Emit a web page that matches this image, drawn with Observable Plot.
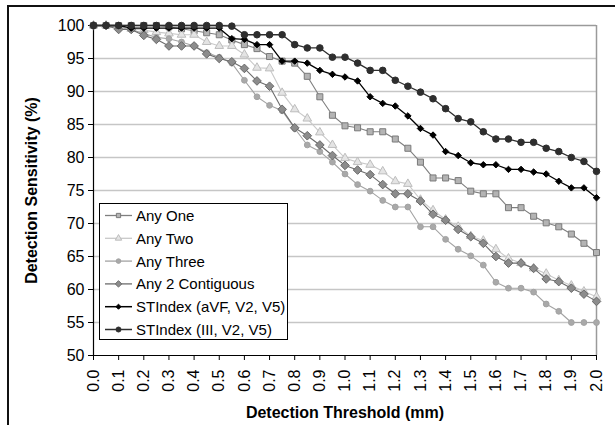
<!DOCTYPE html>
<html>
<head>
<meta charset="utf-8">
<script src="https://cdn.jsdelivr.net/npm/d3@7"></script>
<script src="https://cdn.jsdelivr.net/npm/@observablehq/plot@0.6"></script>
<style>
  html, body { margin: 0; padding: 0; background: #fff; }
  #wrap { position: relative; width: 615px; height: 425px; overflow: hidden; font-family: "Liberation Sans", Arial, sans-serif; }
  #outer { position: absolute; left: 7px; top: 5px; width: 700px; height: 600px; border-left: 2px solid #111; border-top: 2px solid #111; pointer-events: none; }
  #legend { position: absolute; left: 99px; top: 203px; }
</style>
</head>
<body>
<div id="wrap"><div id="outer"></div></div>
<script>
const thresholds = [0.00, 0.05, 0.10, 0.15, 0.20, 0.25, 0.30, 0.35, 0.40, 0.45, 0.50, 0.55, 0.60, 0.65, 0.70, 0.75, 0.80, 0.85, 0.90, 0.95, 1.00, 1.05, 1.10, 1.15, 1.20, 1.25, 1.30, 1.35, 1.40, 1.45, 1.50, 1.55, 1.60, 1.65, 1.70, 1.75, 1.80, 1.85, 1.90, 1.95, 2.00];
const xTicks = [0.0, 0.1, 0.2, 0.3, 0.4, 0.5, 0.6, 0.7, 0.8, 0.9, 1.0, 1.1, 1.2, 1.3, 1.4, 1.5, 1.6, 1.7, 1.8, 1.9, 2.0];
const yTicks = [50, 55, 60, 65, 70, 75, 80, 85, 90, 95, 100];

const seriesNames = ["Any One", "Any Two", "Any Three", "Any 2 Contiguous", "STIndex (aVF, V2, V5)", "STIndex (III, V2, V5)"];

const anyOne = [100, 100, 100, 100, 100, 100, 99.8, 99.5, 99.2, 98.9, 98.6, 97.8, 97.1, 96.5, 95.3, 94.6, 94.3, 92.3, 89.2, 86.4, 84.8, 84.5, 83.9, 83.9, 82.8, 81.4, 79.3, 76.9, 76.9, 76.5, 74.9, 74.5, 74.5, 72.4, 72.4, 71.1, 70.1, 69.5, 68.4, 67.0, 65.6];
const anyTwo = [100, 100, 99.8, 99.5, 99.3, 99.0, 98.8, 98.6, 98.6, 97.5, 96.9, 96.9, 95.6, 93.6, 93.5, 89.8, 87.3, 85.9, 83.8, 81.9, 79.9, 79.3, 78.9, 77.9, 76.4, 76.0, 73.6, 72.0, 70.6, 69.5, 68.1, 67.4, 66.1, 64.7, 64.0, 63.2, 62.4, 61.4, 60.6, 59.7, 58.9];
const anyThree = [100, 100, 99.7, 99.4, 98.8, 98.2, 98.0, 97.5, 96.9, 95.9, 95.2, 94.3, 91.7, 89.2, 87.9, 87.1, 84.4, 81.9, 80.9, 79.3, 77.5, 75.9, 74.9, 73.5, 72.5, 72.5, 69.5, 69.5, 67.6, 66.1, 65.1, 63.7, 61.1, 60.2, 60.2, 59.6, 57.8, 56.7, 55.0, 55.0, 55.0];
const any2Contig = [100, 100, 99.4, 99.4, 98.5, 97.9, 96.9, 96.9, 96.9, 95.7, 95.0, 94.5, 93.5, 91.6, 90.8, 87.3, 84.5, 83.3, 81.9, 80.3, 78.8, 78.1, 77.4, 75.9, 74.5, 74.5, 73.4, 71.4, 70.5, 69.1, 68.0, 67.0, 65.0, 64.0, 64.0, 63.2, 61.6, 61.2, 60.2, 59.3, 58.2];
const stAVF = [100, 100, 100, 99.6, 99.6, 99.6, 99.6, 99.6, 99.6, 99.6, 99.6, 98.0, 97.9, 97.1, 97.1, 94.6, 94.6, 94.3, 93.2, 92.6, 92.2, 91.6, 89.2, 88.2, 87.8, 86.3, 84.4, 83.4, 80.9, 80.3, 79.2, 78.9, 78.9, 78.2, 78.2, 77.8, 77.5, 76.4, 75.4, 75.4, 73.9];
const stIII = [100, 100, 100, 100, 100, 100, 100, 100, 100, 100, 100, 99.9, 98.6, 98.6, 98.6, 98.6, 97.1, 96.6, 96.6, 95.2, 95.2, 94.3, 93.2, 93.2, 91.7, 90.8, 89.9, 88.9, 87.4, 85.9, 85.4, 83.9, 82.8, 82.8, 82.3, 82.3, 81.4, 80.9, 80.0, 79.4, 77.9];

const seriesValues = [anyOne, anyTwo, anyThree, any2Contig, stAVF, stIII];

// styles per series (same order as seriesNames)
const styles = [
  {line: "#7f7f7f", fill: "#b4b4b4", stroke: "#7a7a7a", symbol: "square",   r: 3.4, lw: 1.1, legR: 2.4},
  {line: "#c9c9c9", fill: "#e4e4e4", stroke: "#bdbdbd", symbol: "triangle", r: 3.2, lw: 1.1, legR: 2.4},
  {line: "#a3a3a3", fill: "#a9a9a9", stroke: "#a3a3a3", symbol: "circle",   r: 2.9, lw: 1.1, legR: 2.3},
  {line: "#6c6c6c", fill: "#8c8c8c", stroke: "#6a6a6a", symbol: "diamond2", r: 3.9, lw: 1.1, legR: 2.9},
  {line: "#000000", fill: "#000000", stroke: "#000000", symbol: "diamond2", r: 2.9, lw: 1.3, legR: 2.3},
  {line: "#2e2e2e", fill: "#2e2e2e", stroke: "#2e2e2e", symbol: "circle",   r: 3.3, lw: 1.3, legR: 2.5}
];

const rows = [];
seriesNames.forEach((name, i) => {
  thresholds.forEach((t, j) => rows.push({series: name, idx: i, x: t, y: seriesValues[i][j]}));
});

const marks = [
  Plot.gridY(yTicks.filter(v => v > 50 && v < 100), {stroke: "#c6c6c6", strokeOpacity: 1, strokeWidth: 1.5}),
  Plot.ruleY([100], {stroke: "#9a9a9a", strokeWidth: 1.5}),
  Plot.ruleX([2], {stroke: "#9a9a9a", strokeWidth: 1.5}),
  Plot.ruleX([0], {stroke: "#000", strokeWidth: 1.2}),
  Plot.ruleY([50], {stroke: "#000", strokeWidth: 1.2}),
  Plot.axisY({ticks: yTicks, tickSize: 5, tickPadding: 4, label: null, fontSize: 16, stroke: "#000"}),
  Plot.axisX({ticks: xTicks, tickFormat: d3.format(".1f"), tickRotate: -90, tickSize: 5, tickPadding: 9, label: null, fontSize: 16}),
];

seriesNames.forEach((name, i) => {
  const s = styles[i];
  const d = rows.filter(r => r.idx === i);
  marks.push(Plot.line(d, {x: "x", y: "y", stroke: s.line, strokeWidth: s.lw}));
  marks.push(Plot.dot(d, {x: "x", y: "y", symbol: () => s.symbol, r: s.r, fill: s.fill, stroke: s.stroke, strokeWidth: 1}));
});

marks.push(Plot.text(["Detection Sensitivity (%)"], {frameAnchor: "left", dx: -62, rotate: -90, textAnchor: "middle", lineAnchor: "middle", fontSize: 16, fontWeight: "bold", text: d => d}));
marks.push(Plot.text(["Detection Threshold (mm)"], {frameAnchor: "bottom", dy: 57, textAnchor: "middle", lineAnchor: "middle", fontSize: 16, fontWeight: "bold", text: d => d}));

const chart = Plot.plot({
  width: 615,
  height: 425,
  marginLeft: 93,
  marginRight: 19,
  marginTop: 25,
  marginBottom: 70,
  x: {domain: [0, 2]},
  y: {domain: [50, 100]},
  style: {fontFamily: "'Liberation Sans', Arial, sans-serif", fontSize: "16px", color: "#000", background: "transparent", overflow: "visible"},
  marks
});
chart.style.position = "absolute";
chart.style.left = "0px";
chart.style.top = "0px";
document.getElementById("wrap").appendChild(chart);

// Legend overlay
const legW = 189, legH = 137, rowH = 22.8;
const leg = d3.select("#wrap").append("svg")
  .attr("id", "legend")
  .attr("width", legW).attr("height", legH)
  .style("font-family", "'Liberation Sans', Arial, sans-serif");
leg.append("rect").attr("x", 0.5).attr("y", 0.5).attr("width", legW - 1).attr("height", legH - 1)
  .attr("fill", "#fff").attr("stroke", "#000").attr("stroke-width", 1);
const symMap = {square: d3.symbolSquare, triangle: d3.symbolTriangle, circle: d3.symbolCircle, diamond2: d3.symbolDiamond2};
seriesNames.forEach((name, i) => {
  const s = styles[i];
  const cy = 12.5 + i * rowH;
  const g = leg.append("g");
  g.append("line").attr("x1", 6).attr("x2", 33).attr("y1", cy).attr("y2", cy).attr("stroke", s.line).attr("stroke-width", s.lw + 0.2);
  g.append("path").attr("d", d3.symbol(symMap[s.symbol], Math.PI * s.legR * s.legR)())
    .attr("transform", `translate(19.5,${cy})`).attr("fill", s.fill).attr("stroke", s.stroke).attr("stroke-width", 1);
  g.append("text").attr("x", 37).attr("y", cy).attr("dy", "0.36em").attr("font-size", 15).attr("fill", "#000").text(name);
});
</script>
</body>
</html>
